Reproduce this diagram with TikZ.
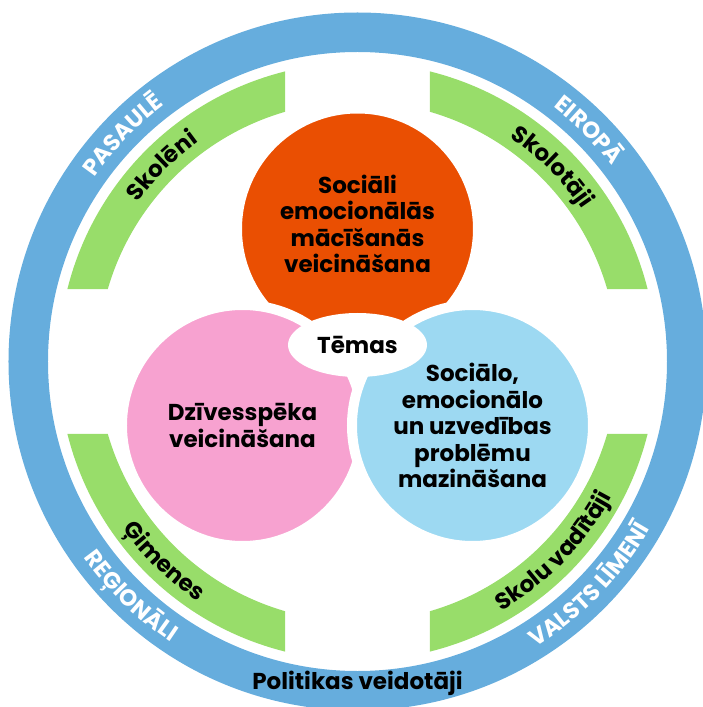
\documentclass[tikz,border=0pt]{standalone}
\usepackage{fontspec}
\setmainfont{Poppins}
\usepackage{tikz}
\usetikzlibrary{shapes.geometric,decorations.text}

\definecolor{ringblue}{RGB}{102,173,221}
\definecolor{bandgreen}{RGB}{152,221,106}
\definecolor{themeorange}{RGB}{234,79,2}
\definecolor{themepink}{RGB}{247,162,208}
\definecolor{themeblue}{RGB}{157,217,242}

\newcommand{\bigfont}{\bfseries\fontsize{23}{26.5}\selectfont}

\tikzset{
  theme/.style={circle, minimum size=241pt, inner sep=0pt, draw=white, line width=10pt,
    align=center, font=\bigfont},
  themetext/.style={align=center, font=\bigfont, inner sep=0pt},
  ringword/.style={decorate, decoration={text along path, text align=center,
    text color=white, text={|\bigfont|#1}}},
  bandword/.style={decorate, decoration={text along path, text align=center,
    text color=black, text={|\bigfont|#1}}}
}

\begin{document}
\begin{tikzpicture}[x=1pt,y=1pt]
  \useasboundingbox (-357.5,-345.5) rectangle (345.5,361.5);

  % outer ring
  \fill[ringblue, even odd rule] (0,0) circle (349) (0,0) circle (309.5);

  % green bands
  \foreach \a in {0,90,180,270}
    \fill[bandgreen, rotate=\a] (14.03:299) arc[start angle=14.03, end angle=75.97, radius=299]
      -- (73.81:260) arc[start angle=73.81, end angle=16.19, radius=260] -- cycle;

  % ring labels
  \path[ringword=PASAULĒ] (171:321) arc[start angle=171, end angle=101, radius=321];
  \path[ringword=EIROPĀ] (80:321) arc[start angle=80, end angle=10, radius=321];
  \path[ringword=REĢIONĀLI] (191:337) arc[start angle=191, end angle=261, radius=337];
  \path[ringword=VALSTS LĪMENĪ] (-79:337) arc[start angle=-79, end angle=-9, radius=337];
  \node[themetext] (policy) at (0,-322) {Politikas veidotāji};

  % band labels
  \path[bandword=Skolēni] (170:271) arc[start angle=170, end angle=100, radius=271];
  \path[bandword=Skolotāji] (80:271) arc[start angle=80, end angle=10, radius=271];
  \path[bandword=Ģimenes] (191:288) arc[start angle=191, end angle=261, radius=288];
  \path[bandword=Skolu vadītāji] (-79:288) arc[start angle=-79, end angle=-9, radius=288];

  % themes
  \node[theme, fill=themeorange] (sel) at (0,132.5) {};
  \node[themetext] (selText) at ([yshift=5]sel.center) {Sociāli\\emocionālās\\mācīšanās\\veicināšana};
  \node[theme, fill=themepink] (life) at (-115,-64) {Dzīvesspēka\\veicināšana};
  \node[theme, fill=themeblue] (behav) at (115,-64) {Sociālo,\\emocionālo\\un uzvedības\\problēmu\\mazināšana};

  % centre
  \node[ellipse, fill=white, minimum width=139pt, minimum height=64pt, font=\bigfont] (topics) at (0,16.5) {Tēmas};
\end{tikzpicture}
\end{document}
